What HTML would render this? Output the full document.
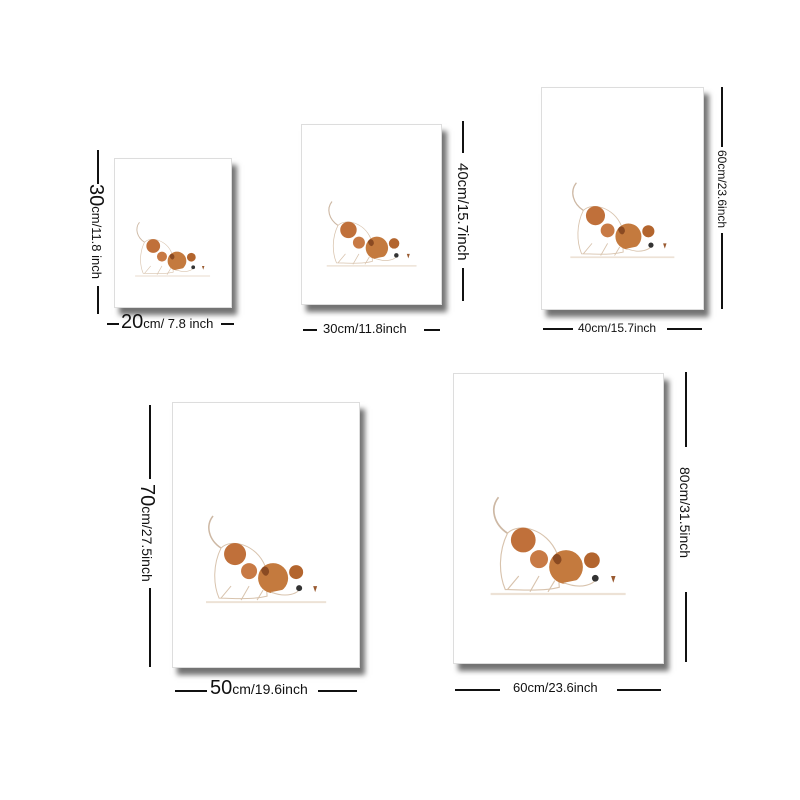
<!DOCTYPE html>
<html><head><meta charset="utf-8"><style>
html,body{margin:0;padding:0;background:#fff;}
body{width:800px;height:800px;position:relative;overflow:hidden;font-family:"Liberation Sans",sans-serif;color:#111;}
.frame{position:absolute;background:#fff;border:1px solid #ddd;box-shadow:5px 7px 5px rgba(0,0,0,0.55);}
.dog{position:absolute;left:15%;top:42%;width:70%;}
.hl,.vl{position:absolute;background:#111;}
.hl{height:2px;}
.vl{width:2px;}
.ht{position:absolute;white-space:nowrap;font-size:13px;line-height:14px;}
.vt{position:absolute;white-space:nowrap;writing-mode:vertical-rl;font-size:13px;line-height:14px;}
.big{font-size:20px;}
</style></head><body>
<svg width="0" height="0" style="position:absolute">
<defs>
<g id="dogart">
<path d="M12 2 C4 12,8 26,20 34" fill="none" stroke="#cdb8a4" stroke-width="1.5"/>
<path d="M20 34 C30 24,55 30,64 52 L66 82 C50 86,30 84,18 84 C12 70,12 50,20 34Z" fill="#fff" stroke="#d8c3ad" stroke-width="1"/>
<circle cx="34" cy="40" r="11" fill="#c0703a"/>
<circle cx="48" cy="57" r="8" fill="#c87a45"/>
<circle cx="72" cy="64" r="15" fill="#c47a3e"/>
<path d="M60 56 C62 50,68 52,68 58 C66 64,62 62,60 56Z" fill="#8a4a22"/>
<circle cx="95" cy="58" r="7" fill="#b3652e"/>
<path d="M70 78 C85 84,98 80,100 72" fill="#fff" stroke="#d8c3ad"/>
<circle cx="98" cy="74" r="3" fill="#333"/>
<path d="M112 72 l2 6 l2 -6 z" fill="#9a5a30"/>
<path d="M20 84 L30 72 M40 86 L48 72 M56 86 L62 76" stroke="#d8c3ad" stroke-width="1" fill="none"/>
<path d="M5 88 L125 88" stroke="#ede2d6" stroke-width="2"/>
</g>
</defs>
</svg>

<div class="frame" style="left:114px;top:158px;width:116px;height:148px;"><svg class="dog" viewBox="0 0 130 92"><use href="#dogart"/></svg></div>
<div class="frame" style="left:301px;top:124px;width:139px;height:179px;"><svg class="dog" viewBox="0 0 130 92"><use href="#dogart"/></svg></div>
<div class="frame" style="left:541px;top:87px;width:161px;height:221px;"><svg class="dog" viewBox="0 0 130 92"><use href="#dogart"/></svg></div>
<div class="frame" style="left:172px;top:402px;width:186px;height:264px;"><svg class="dog" viewBox="0 0 130 92"><use href="#dogart"/></svg></div>
<div class="frame" style="left:453px;top:373px;width:209px;height:289px;"><svg class="dog" viewBox="0 0 130 92"><use href="#dogart"/></svg></div>

<!-- frame 1 dims -->
<div class="vl" style="left:97px;top:150px;height:34px"></div>
<div class="vt" style="left:89px;top:184px;font-size:13px"><span class="big">30</span>cm/11.8 inch</div>
<div class="vl" style="left:97px;top:286px;height:28px"></div>
<div class="hl" style="left:107px;top:323px;width:12px"></div>
<div class="ht" style="left:121px;top:315px"><span class="big">20</span>cm/ 7.8 inch</div>
<div class="hl" style="left:221px;top:323px;width:13px"></div>

<!-- frame 2 -->
<div class="vl" style="left:462px;top:121px;height:32px"></div>
<div class="vt" style="left:455px;top:163px;font-size:15px">40cm/15.7inch</div>
<div class="vl" style="left:462px;top:268px;height:33px"></div>
<div class="hl" style="left:303px;top:329px;width:14px"></div>
<div class="ht" style="left:323px;top:322px;font-size:13px">30cm/11.8inch</div>
<div class="hl" style="left:424px;top:329px;width:16px"></div>

<!-- frame 3 -->
<div class="vl" style="left:721px;top:87px;height:60px"></div>
<div class="vt" style="left:715px;top:150px;font-size:12px">60cm/23.6inch</div>
<div class="vl" style="left:721px;top:233px;height:76px"></div>
<div class="hl" style="left:543px;top:328px;width:30px"></div>
<div class="ht" style="left:578px;top:321px;font-size:12px">40cm/15.7inch</div>
<div class="hl" style="left:667px;top:328px;width:35px"></div>

<!-- frame 4 -->
<div class="vl" style="left:149px;top:405px;height:74px"></div>
<div class="vt" style="left:140px;top:484px;font-size:14px"><span class="big">70</span>cm/27.5inch</div>
<div class="vl" style="left:149px;top:588px;height:79px"></div>
<div class="hl" style="left:175px;top:690px;width:32px"></div>
<div class="ht" style="left:210px;top:681px;font-size:14px"><span class="big">50</span>cm/19.6inch</div>
<div class="hl" style="left:318px;top:690px;width:39px"></div>

<!-- frame 5 -->
<div class="vl" style="left:685px;top:372px;height:75px"></div>
<div class="vt" style="left:678px;top:467px;font-size:14px">80cm/31.5inch</div>
<div class="vl" style="left:685px;top:592px;height:70px"></div>
<div class="hl" style="left:455px;top:689px;width:45px"></div>
<div class="ht" style="left:513px;top:681px;font-size:13px">60cm/23.6inch</div>
<div class="hl" style="left:617px;top:689px;width:44px"></div>
</body></html>
